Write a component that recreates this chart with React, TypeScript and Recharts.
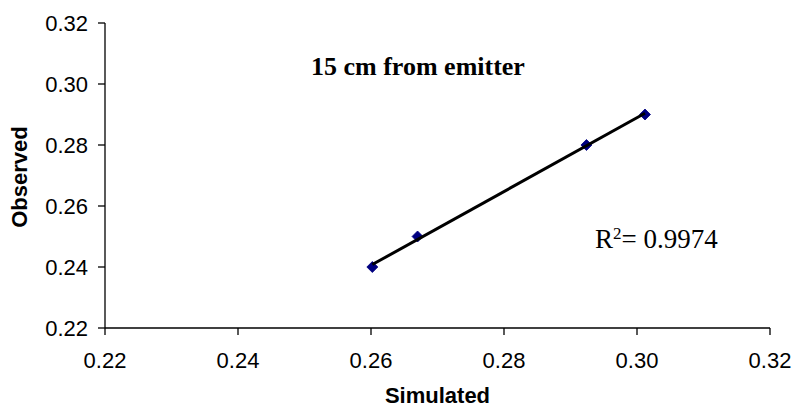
import React from "react";
import { ScatterChart, Scatter, XAxis, YAxis, Customized } from "recharts";

const simulated = [0.2602, 0.267, 0.2924, 0.3012];
const observed = [0.24, 0.25, 0.28, 0.29];
const trendX = [0.2602, 0.3012];
const trendY = [0.2408, 0.2904];
const axisTicks = [0.22, 0.24, 0.26, 0.28, 0.3, 0.32];
const titleText = "15 cm from emitter";
const r2Text = "0.9974";
const xTitle = "Simulated";
const yTitle = "Observed";

const points = simulated.map((x, i) => ({ x, y: observed[i] }));
const trend = trendX.map((x, i) => ({ x, y: trendY[i] }));

const SERIF = "'Liberation Serif', 'Times New Roman', serif";
const SANS = "'Liberation Sans', Arial, sans-serif";

const Diamond = (props: any) => {
  const { cx, cy } = props;
  if (cx == null || cy == null) return null;
  const r = 5.5;
  return (
    <polygon
      points={`${cx},${cy - r} ${cx + r},${cy} ${cx},${cy + r} ${cx - r},${cy}`}
      fill="#000080"
      stroke="#000080"
      strokeWidth={0.8}
    />
  );
};

const Overlay = () => (
  <g>
    <text x={311} y={75} fontFamily={SERIF} fontWeight="bold" fontSize={26} fill="#000">
      {titleText}
    </text>
    <text x={595} y={248} fontFamily={SERIF} fontSize={27} fill="#000">
      <tspan>R</tspan>
      <tspan dy={-9} fontSize={17}>2</tspan>
      <tspan dy={9}>= {r2Text}</tspan>
    </text>
    <text x={437.5} y={403} textAnchor="middle" fontFamily={SANS} fontWeight="bold" fontSize={22} fill="#000">
      {xTitle}
    </text>
    <text
      x={27}
      y={177}
      transform="rotate(-90 27 177)"
      textAnchor="middle"
      fontFamily={SANS}
      fontWeight="bold"
      fontSize={22}
      fill="#000"
    >
      {yTitle}
    </text>
  </g>
);

export default function App() {
  const tickStyle = { fontFamily: SANS, fontSize: 22, fill: "#000" };
  return (
    <div style={{ position: "absolute", left: 0, top: 0, width: 795, height: 410, background: "#fff" }}>
      <ScatterChart width={795} height={410} margin={{ top: 23, right: 25, bottom: 0, left: 0 }}>
        <XAxis
          type="number"
          dataKey="x"
          domain={[0.22, 0.32]}
          ticks={axisTicks}
          tickFormatter={(v: number) => v.toFixed(2)}
          axisLine={{ stroke: "#000", strokeWidth: 1.3 }}
          tickLine={{ stroke: "#000", strokeWidth: 1.3 }}
          tickSize={7}
          tickMargin={17}
          height={82}
          tick={tickStyle}
          allowDataOverflow
        />
        <YAxis
          type="number"
          dataKey="y"
          domain={[0.22, 0.32]}
          ticks={axisTicks}
          tickFormatter={(v: number) => v.toFixed(2)}
          axisLine={{ stroke: "#000", strokeWidth: 1.3 }}
          tickLine={{ stroke: "#000", strokeWidth: 1.3 }}
          tickSize={7}
          tickMargin={10}
          width={105}
          tick={tickStyle}
          allowDataOverflow
        />
        <Scatter data={points} shape={<Diamond />} isAnimationActive={false} />
        <Scatter
          data={trend}
          line={{ stroke: "#000", strokeWidth: 3 }}
          shape={() => null}
          isAnimationActive={false}
        />
        <Customized component={Overlay} />
      </ScatterChart>
    </div>
  );
}
